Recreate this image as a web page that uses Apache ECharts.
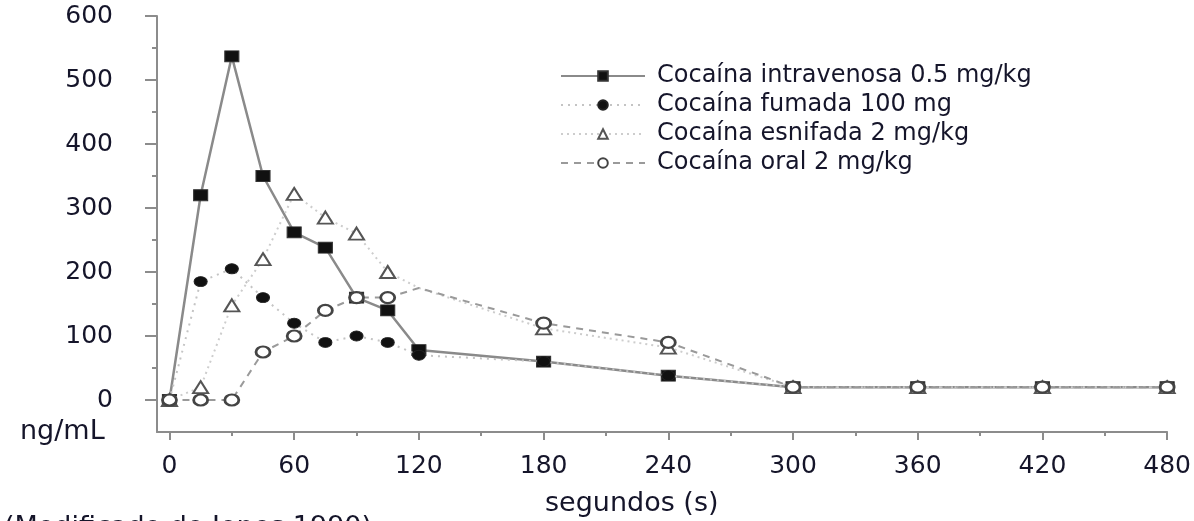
<!DOCTYPE html>
<html>
<head>
<meta charset="utf-8">
<script src="https://cdn.jsdelivr.net/npm/echarts@6/dist/echarts.min.js"></script>
<style>html,body{margin:0;padding:0;background:#fff}#c{width:1194px;height:521px}</style>
</head>
<body>
<div id="c"></div>
<script>
// ---- data ----
const times = [0, 15, 30, 45, 60, 75, 90, 105, 120, 180, 240, 300, 360, 420, 480];
const seriesNames = ['Cocaína intravenosa 0.5 mg/kg', 'Cocaína fumada 100 mg', 'Cocaína esnifada 2 mg/kg', 'Cocaína oral 2 mg/kg'];
const intravenosa = [0, 320, 537, 350, 262, 238, 160, 140, 78, 60, 38, 20, 20, 20, 20];
const fumada      = [0, 185, 205, 160, 120, 90, 100, 90, 70, 60, 38, 20, 20, 20, 20];
const esnifada    = [0, 20, 148, 220, 322, 285, 260, 200, 175, 112, 82, 20, 20, 20, 20];
const oral        = [0, 0, 0, 75, 100, 140, 160, 160, 175, 120, 90, 20, 20, 20, 20];
const xMajorTicks = [0, 60, 120, 180, 240, 300, 360, 420, 480];
const xMinorTicks = [30, 90, 150, 210, 270, 330, 390, 450];
const yMajorTicks = [0, 100, 200, 300, 400, 500, 600];
const yMinorTicks = [50, 150, 250, 350, 450, 550];
const unmarkedTimes = [120];

const txt = '#15152a';
const ellipse = 'path://M0,5a7,5 0 1,0 14,0a7,5 0 1,0 -14,0';

function build(vals, hideUnmarked) {
  return times.map((t, i) => {
    const d = { value: [t, vals[i]] };
    if (hideUnmarked && unmarkedTimes.includes(t)) d.symbol = 'none';
    return d;
  });
}

const chart = echarts.init(document.getElementById('c'), null, { renderer: 'canvas' });
const axisLineStyle = { color: '#8c8c8c', width: 2 };
const tickStyle = { color: '#8c8c8c', width: 2 };
chart.setOption({
  animation: false,
  backgroundColor: '#fff',
  grid: { left: 157, right: 25, top: 16, bottom: 89 },
  legend: {
    orient: 'vertical', left: 555, top: 59,
    itemWidth: 84, itemHeight: 12, itemGap: 5,
    textStyle: { fontFamily: 'DejaVu Sans', fontSize: 24, color: txt, lineHeight: 24, padding: [0, 0, 0, 7] },
    data: seriesNames
  },
  xAxis: [{
    type: 'value', min: -6, max: 480,
    axisLine: { show: true, onZero: false, lineStyle: axisLineStyle },
    axisTick: { show: true, length: 8, lineStyle: tickStyle, customValues: xMajorTicks },
    axisLabel: { fontFamily: 'DejaVu Sans', fontSize: 25, color: txt, margin: 22, customValues: xMajorTicks },
    splitLine: { show: false }
  }, {
    type: 'value', min: -6, max: 480, position: 'bottom',
    axisLine: { show: false, onZero: false },
    axisTick: { show: true, length: 4, lineStyle: tickStyle, customValues: xMinorTicks },
    axisLabel: { show: false },
    splitLine: { show: false }
  }],
  yAxis: [{
    type: 'value', min: -50, max: 600,
    axisLine: { show: true, onZero: false, lineStyle: axisLineStyle },
    axisTick: { show: true, length: 12, lineStyle: tickStyle, customValues: yMajorTicks },
    axisLabel: { fontFamily: 'DejaVu Sans', fontSize: 25, color: txt, margin: 44, customValues: yMajorTicks },
    splitLine: { show: false }
  }, {
    type: 'value', min: -50, max: 600, position: 'left',
    axisLine: { show: false, onZero: false },
    axisTick: { show: true, length: 5, lineStyle: tickStyle, customValues: yMinorTicks },
    axisLabel: { show: false },
    splitLine: { show: false }
  }],
  graphic: [
    { type: 'text', left: 20, top: 418, style: { text: 'ng/mL', fontFamily: 'DejaVu Sans', fontSize: 27, fill: txt } },
    { type: 'text', left: 545, top: 490, style: { text: 'segundos (s)', fontFamily: 'DejaVu Sans', fontSize: 27, fill: txt } },
    { type: 'text', left: 4, top: 514, style: { text: '(Modificado de Jones 1990)', fontFamily: 'DejaVu Sans', fontSize: 27, fill: txt } }
  ],
  series: [
    {
      name: seriesNames[0], type: 'line', data: build(intravenosa, false),
      symbol: 'rect', symbolSize: [14, 11], z: 2,
      lineStyle: { color: '#8a8a8a', width: 2.5, type: 'solid' },
      itemStyle: { color: '#111', borderColor: '#333', borderWidth: 1 }
    },
    {
      name: seriesNames[1], type: 'line', data: build(fumada, false),
      symbol: ellipse, symbolSize: [13, 10], z: 3,
      lineStyle: { color: '#c4c4c4', width: 2, type: [2, 5] },
      itemStyle: { color: '#111', borderColor: '#222', borderWidth: 1 }
    },
    {
      name: seriesNames[2], type: 'line', data: build(esnifada, true),
      symbol: 'triangle', symbolSize: [15, 12], z: 4,
      lineStyle: { color: '#cdcdcd', width: 2, type: [2, 4] },
      itemStyle: { color: '#fff', borderColor: '#555', borderWidth: 2 }
    },
    {
      name: seriesNames[3], type: 'line', data: build(oral, true),
      symbol: ellipse, symbolSize: [14, 11], z: 5,
      lineStyle: { color: '#9a9a9a', width: 2, type: [7, 6] },
      itemStyle: { color: '#fff', borderColor: '#444', borderWidth: 2.5 }
    }
  ]
});
</script>
</body>
</html>
